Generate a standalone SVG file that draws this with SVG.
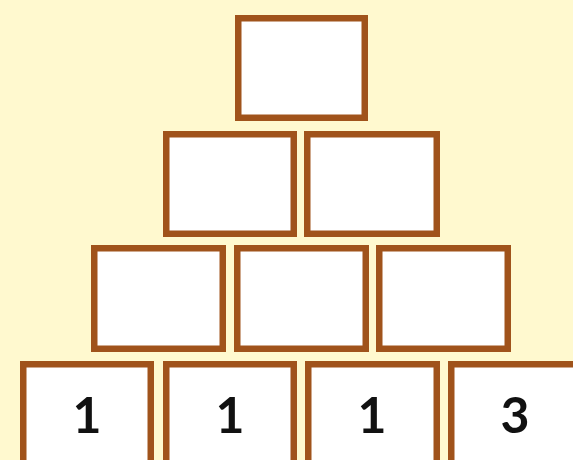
<svg xmlns="http://www.w3.org/2000/svg" width="573" height="460" viewBox="0 0 573 460">
<style>
.box{fill:#ffffff;stroke:#A0531B;stroke-width:6.5}
.num{font-family:Lato,"Liberation Sans",sans-serif;font-weight:bold;font-size:50px;fill:#111;text-anchor:middle}
</style>
<rect width="573" height="460" fill="#FFF9CF"/>
<g id="r1c1"><rect class="box" x="238.25" y="18.25" width="126.5" height="99.5"/></g>
<g id="r2c1"><rect class="box" x="166.25" y="134.25" width="127.5" height="99.5"/></g>
<g id="r2c2"><rect class="box" x="307.25" y="134.25" width="129.5" height="99.5"/></g>
<g id="r3c1"><rect class="box" x="94.25" y="248.25" width="128.5" height="100.5"/></g>
<g id="r3c2"><rect class="box" x="237.25" y="248.25" width="128.5" height="100.5"/></g>
<g id="r3c3"><rect class="box" x="379.25" y="248.25" width="128.5" height="100.5"/></g>
<g id="r4c1"><rect class="box" x="23.25" y="364.25" width="127.5" height="100"/><text class="num" x="87" y="433">1</text></g>
<g id="r4c2"><rect class="box" x="166.25" y="364.25" width="127.5" height="100"/><text class="num" x="230" y="433">1</text></g>
<g id="r4c3"><rect class="box" x="308.25" y="364.25" width="128.5" height="100"/><text class="num" x="372" y="433">1</text></g>
<g id="r4c4"><rect class="box" x="451.25" y="364.25" width="128.5" height="100"/><text class="num" x="515" y="433">3</text></g>
<g id="connectors"></g>
</svg>
